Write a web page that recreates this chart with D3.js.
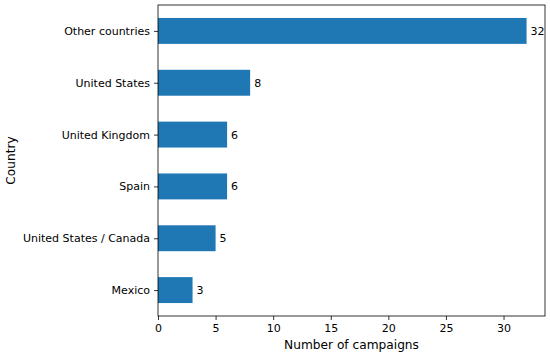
<!DOCTYPE html>
<html>
<head>
<meta charset="utf-8">
<script src="https://cdn.jsdelivr.net/npm/d3@7"></script>
<style>
  body { margin: 0; background: #fff; }
  text { font-family: "DejaVu Sans", sans-serif; fill: #000; }
</style>
</head>
<body>
<div id="chart"></div>
<script>
// bottom to top, as drawn by pandas barh
var countries = ["Mexico", "United States / Canada", "Spain", "United Kingdom", "United States", "Other countries"];
var campaigns = [3, 5, 6, 6, 8, 32];
var xTicks = [0, 5, 10, 15, 20, 25, 30];

var width = 550, height = 356;
var margin = {top: 5, right: 5, bottom: 40, left: 158};
var plotW = width - margin.left - margin.right;
var plotH = height - margin.top - margin.bottom;

var svg = d3.select("#chart").append("svg")
    .attr("width", width)
    .attr("height", height);

var g = svg.append("g")
    .attr("transform", "translate(" + margin.left + "," + margin.top + ")");

var x = d3.scaleLinear()
    .domain([0, d3.max(campaigns) * 1.05])
    .range([0, plotW]);

// linear y on category index, range [-0.5, n-0.5]
var y = d3.scaleLinear()
    .domain([-0.5, countries.length - 0.5])
    .range([plotH, 0]);

var barH = y(0) - y(0.5);

g.selectAll(".bar")
  .data(campaigns)
  .enter().append("rect")
    .attr("class", "bar")
    .attr("x", x(0))
    .attr("y", function(d, i) { return y(i + 0.25); })
    .attr("width", function(d) { return x(d) - x(0); })
    .attr("height", barH)
    .attr("fill", "#1f77b4");

g.selectAll(".lbl")
  .data(campaigns)
  .enter().append("text")
    .attr("class", "lbl")
    .attr("x", function(d) { return x(d) + 4; })
    .attr("y", function(d, i) { return y(i); })
    .attr("dy", "0.36em")
    .style("font-size", "11px")
    .text(function(d) { return d; });

var xAxis = g.append("g")
    .attr("transform", "translate(0," + plotH + ")")
    .call(d3.axisBottom(x).tickValues(xTicks).tickSize(4).tickPadding(4));

var yAxis = g.append("g")
    .call(d3.axisLeft(y)
      .tickValues(d3.range(countries.length))
      .tickFormat(function(i) { return countries[i]; })
      .tickSize(4).tickPadding(4));

[xAxis, yAxis].forEach(function(a) {
  a.select(".domain").remove();
  a.selectAll("line").attr("stroke", "#000").attr("stroke-width", 0.8);
  a.selectAll("text").style("font-size", "11px").style("font-family", "DejaVu Sans, sans-serif").attr("fill", "#000");
});

// frame
g.append("rect")
    .attr("x", 0).attr("y", 0)
    .attr("width", plotW).attr("height", plotH)
    .attr("fill", "none")
    .attr("stroke", "#000")
    .attr("stroke-width", 0.8);

svg.append("text")
    .attr("x", margin.left + plotW / 2)
    .attr("y", 349)
    .attr("text-anchor", "middle")
    .style("font-size", "12.2px")
    .text("Number of campaigns");

svg.append("text")
    .attr("transform", "translate(15," + (margin.top + plotH / 2) + ") rotate(-90)")
    .attr("text-anchor", "middle")
    .style("font-size", "12.2px")
    .text("Country");
</script>
</body>
</html>
